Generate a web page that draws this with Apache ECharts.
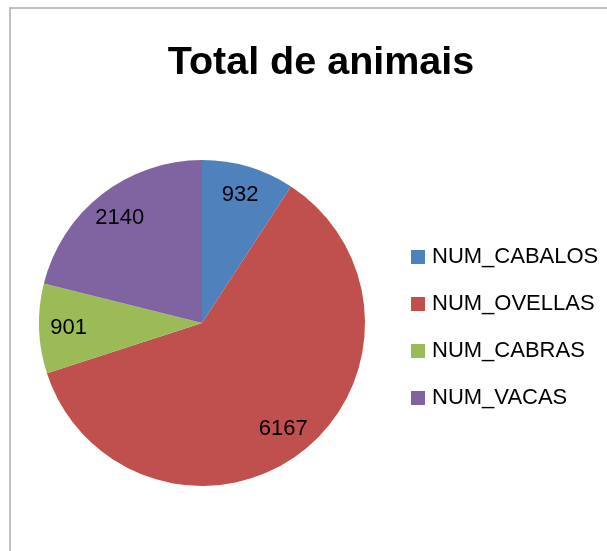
<!DOCTYPE html>
<html>
<head>
<meta charset="utf-8">
<script src="https://cdn.jsdelivr.net/npm/echarts@6/dist/echarts.min.js"></script>
<style>
html,body{margin:0;padding:0;background:#fff;}
#chart{width:607px;height:551px;}
</style>
</head>
<body>
<div id="chart"></div>
<script>
const categories = ['NUM_CABALOS', 'NUM_OVELLAS', 'NUM_CABRAS', 'NUM_VACAS'];
const values = [932, 6167, 901, 2140];
const colors = ['#4F81BD', '#C0504D', '#9BBB59', '#8064A2'];
const titleText = 'Total de animais';

const pieData = categories.map((c, i) => ({ name: c, value: values[i], itemStyle: { color: colors[i] } }));
const FONT = '"Liberation Sans", Arial, sans-serif';

const chart = echarts.init(document.getElementById('chart'), null, { renderer: 'canvas' });
chart.setOption({
  animation: false,
  backgroundColor: '#ffffff',
  title: {
    text: titleText,
    left: 316,
    textAlign: 'center',
    top: 38,
    textStyle: { fontFamily: FONT, fontWeight: 'bold', fontSize: 39.5, color: '#000' }
  },
  graphic: [{
    type: 'rect',
    shape: { x: 10, y: 8, width: 800, height: 800 },
    style: { fill: 'none', stroke: '#BFBFBF', lineWidth: 2 },
    silent: true
  }],
  legend: {
    orient: 'vertical',
    left: 406,
    top: 241,
    icon: 'rect',
    itemWidth: 14,
    itemHeight: 14,
    itemGap: 25,
    data: categories,
    textStyle: { fontFamily: FONT, fontSize: 22, color: '#000', lineHeight: 22, padding: [0, 0, 0, 2] }
  },
  series: [{
    type: 'pie',
    center: [202, 323],
    radius: [0, 163],
    startAngle: 90,
    clockwise: true,
    data: pieData,
    label: { show: false },
    labelLine: { show: false },
    itemStyle: { borderWidth: 0 },
    emphasis: { disabled: true }
  }, {
    type: 'pie',
    center: [202, 323],
    radius: [98, 163],
    startAngle: 90,
    clockwise: true,
    silent: true,
    legendHoverLink: false,
    data: categories.map((c, i) => ({ name: c, value: values[i] })),
    itemStyle: { color: 'rgba(0,0,0,0)', borderWidth: 0 },
    label: { show: true, position: 'inside', formatter: '{c}', fontFamily: FONT, fontSize: 22, color: '#000' },
    labelLine: { show: false },
    emphasis: { disabled: true }
  }]
});
</script>
</body>
</html>
